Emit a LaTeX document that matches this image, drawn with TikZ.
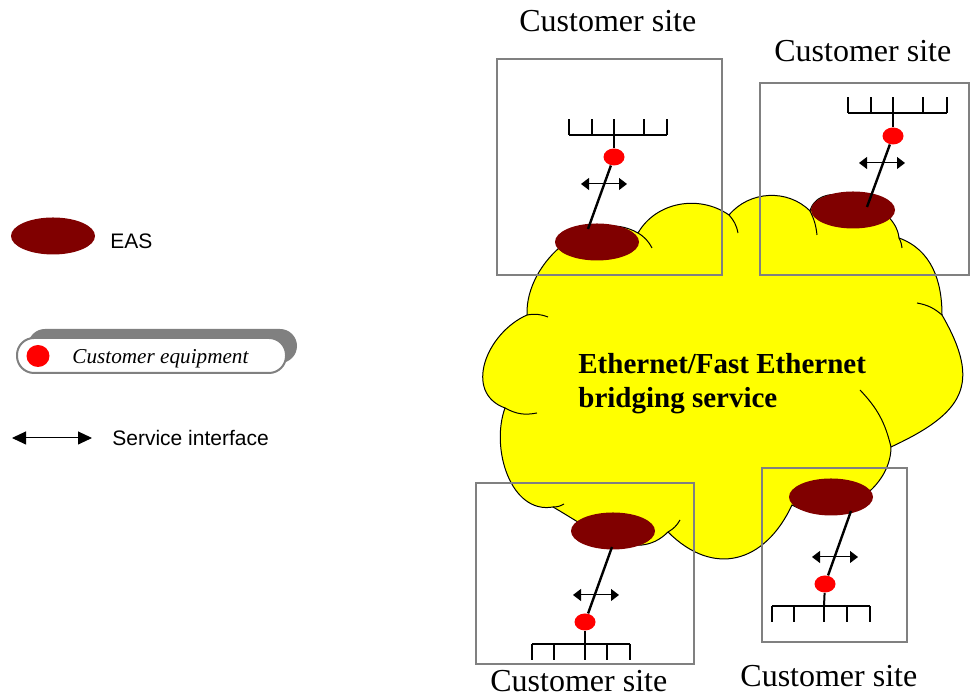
\documentclass[tikz,border=0pt]{standalone}
\usepackage{fontspec}
\setmainfont{Liberation Serif}
\setsansfont{Liberation Sans}
\usetikzlibrary{shapes.geometric,arrows.meta}
\definecolor{easred}{HTML}{800000}
\definecolor{cloudyellow}{HTML}{FFFF00}
\definecolor{sitegray}{HTML}{808080}
\tikzset{
	eas/.style={ellipse,fill=easred,minimum width=42pt,minimum height=18.5pt,inner sep=0pt},
	ce/.style={ellipse,fill=red,minimum width=10.5pt,minimum height=8.5pt,inner sep=0pt},
	sitebox/.style={draw=sitegray,line width=1pt},
	sitelabel/.style={anchor=base west,inner sep=0pt,font=\fontsize{16}{19}\selectfont},
	legendtext/.style={anchor=base west,inner sep=0pt,font=\sffamily\fontsize{10.5}{12}\selectfont},
	link/.style={line width=1.2pt},
	bus/.style={line width=1pt},
	svcif/.style={line width=.5pt,{Triangle[length=4pt,width=6pt]}-{Triangle[length=4pt,width=6pt]}}
}
\begin{document}
\begin{tikzpicture}[x=.5pt,y=.5pt]
	\useasboundingbox (0,0) rectangle (970,699);
	\coordinate (kl) at (505,291);
	\coordinate (lb) at (527,384);
	\coordinate (bc) at (638,466);
	\coordinate (cd) at (729,484);
	\coordinate (de) at (810,488);
	\coordinate (ef) at (899,461);
	\coordinate (fg) at (942,384);
	\coordinate (gh) at (891,252);
	\coordinate (hi) at (792,194);
	\coordinate (ij) at (668,167);
	\coordinate (jk) at (553,192);
	\filldraw[fill=cloudyellow,draw=black,line width=.5pt]
		(kl) to[out=160,in=204,looseness=1.2] (lb)
		to[out=92,in=150] (bc)
		to[out=60,in=145] (cd)
		to[out=50,in=135] (de)
		to[out=75,in=95] (ef)
		to[out=-20,in=90] (fg)
		to[out=-60,in=25,looseness=1.45] (gh)
		to[out=-90,in=330] (hi)
		to[out=245,in=315,looseness=1.3] (ij)
		to[out=225,in=330] (jk)
		to[out=190,in=250] (kl) -- cycle;
	\draw[line width=.5pt] (kl) to[bend right=20] (537,286);
	\draw[line width=.5pt] (lb) to[bend left=15] (548,382);
	\draw[line width=.5pt] (bc) to[bend left=15] (652,451);
	\draw[line width=.5pt] (cd) to[bend left=15] (738,466);
	\draw[line width=.5pt] (de) to[bend left=10] (817,464);
	\draw[line width=.5pt] (ef) to[bend left=10] (902,451);
	\draw[line width=.5pt] (fg) to[bend right=15] (917,396);
	\draw[line width=.5pt] (gh) to[bend right=15] (860,309);
	\draw[line width=.5pt] (ij) to[bend right=15] (680,179);
	\draw[line width=.5pt] (jk) to[bend right=15] (564,195);
	\node[anchor=base west,inner sep=0pt,align=left,font=\bfseries\fontsize{14.5}{17}\selectfont]
		(svc) at (578,291) {Ethernet/Fast Ethernet\\bridging service};

	\draw[sitebox] (497,424) rectangle (722,640);
	\node[sitelabel] (lbl1) at (519,667) {Customer site};
	\node[eas] (eas1) at (597,457) {};
	\node[ce] (ce1) at (614,542) {};
	\coordinate (lk1) at (588,470);
	\draw[link] (ce1) -- (lk1);
	\draw[bus] (569,564) -- (667,564);
	\foreach \x in {569,592,614,644,667}
		\draw[bus] (\x,564) -- (\x,580);
	\draw[bus] (614,564) -- (ce1);
	\coordinate (si1a) at (581,515);
	\coordinate (si1b) at (627,515);
	\draw[svcif] (si1a) -- (si1b);

	\draw[sitebox] (760,424) rectangle (969,616);
	\node[sitelabel] (lbl2) at (774,637) {Customer site};
	\node[eas] (eas2) at (853,489) {};
	\node[ce] (ce2) at (893,563) {};
	\coordinate (lk2) at (867,492);
	\draw[link] (ce2) -- (lk2);
	\draw[bus] (848,586) -- (947,586);
	\foreach \x in {848,871,893,923,947}
		\draw[bus] (\x,586) -- (\x,602);
	\draw[bus] (893,586) -- (ce2);
	\coordinate (si2a) at (859,536);
	\coordinate (si2b) at (905,536);
	\draw[svcif] (si2a) -- (si2b);

	\draw[sitebox] (476,35) rectangle (694,216);
	\node[sitelabel] (lbl3) at (490,7) {Customer site};
	\node[eas] (eas3) at (613,168) {};
	\node[ce] (ce3) at (585,77) {};
	\coordinate (lk3) at (612,152);
	\draw[link] (ce3) -- (lk3);
	\draw[bus] (532,55) -- (630,55);
	\foreach \x in {532,554,585,607,630}
		\draw[bus] (\x,55) -- (\x,39);
	\draw[bus] (585,55) -- (ce3);
	\coordinate (si3a) at (573,104);
	\coordinate (si3b) at (619,104);
	\draw[svcif] (si3a) -- (si3b);

	\draw[sitebox] (762,57) rectangle (907,231);
	\node[sitelabel] (lbl4) at (740,12) {Customer site};
	\node[eas] (eas4) at (831,202) {};
	\node[ce] (ce4) at (825,115) {};
	\coordinate (lk4) at (851,188);
	\draw[link] (ce4) -- (lk4);
	\draw[bus] (772,93) -- (870,93);
	\foreach \x in {772,794,824,847,870}
		\draw[bus] (\x,93) -- (\x,77);
	\draw[bus] (824,93) -- (ce4);
	\coordinate (si4a) at (812,142);
	\coordinate (si4b) at (858,142);
	\draw[svcif] (si4a) -- (si4b);

	\node[eas] (eas0) at (53,463) {};
	\node[legendtext] (easlbl) at (110,450) {EAS};
	\fill[sitegray,rounded corners=8.5pt] (28,336) rectangle (297,370);
	\draw[sitegray,fill=white,line width=1pt,rounded corners=8.5pt] (17,326) rectangle (286,361);
	\node[ce,minimum width=11.5pt,minimum height=11pt] (ce0) at (38,343) {};
	\node[anchor=base west,inner sep=0pt,font=\itshape\fontsize{10.6}{12}\selectfont]
		(celbl) at (72,335) {Customer equipment};
	\coordinate (si0a) at (12,261);
	\coordinate (si0b) at (92,261);
	\draw[line width=.5pt,{Triangle[length=7pt,width=6.5pt]}-{Triangle[length=7pt,width=6.5pt]}] (si0a) -- (si0b);
	\node[legendtext] (silbl) at (112,253) {Service interface};
\end{tikzpicture}
\end{document}
